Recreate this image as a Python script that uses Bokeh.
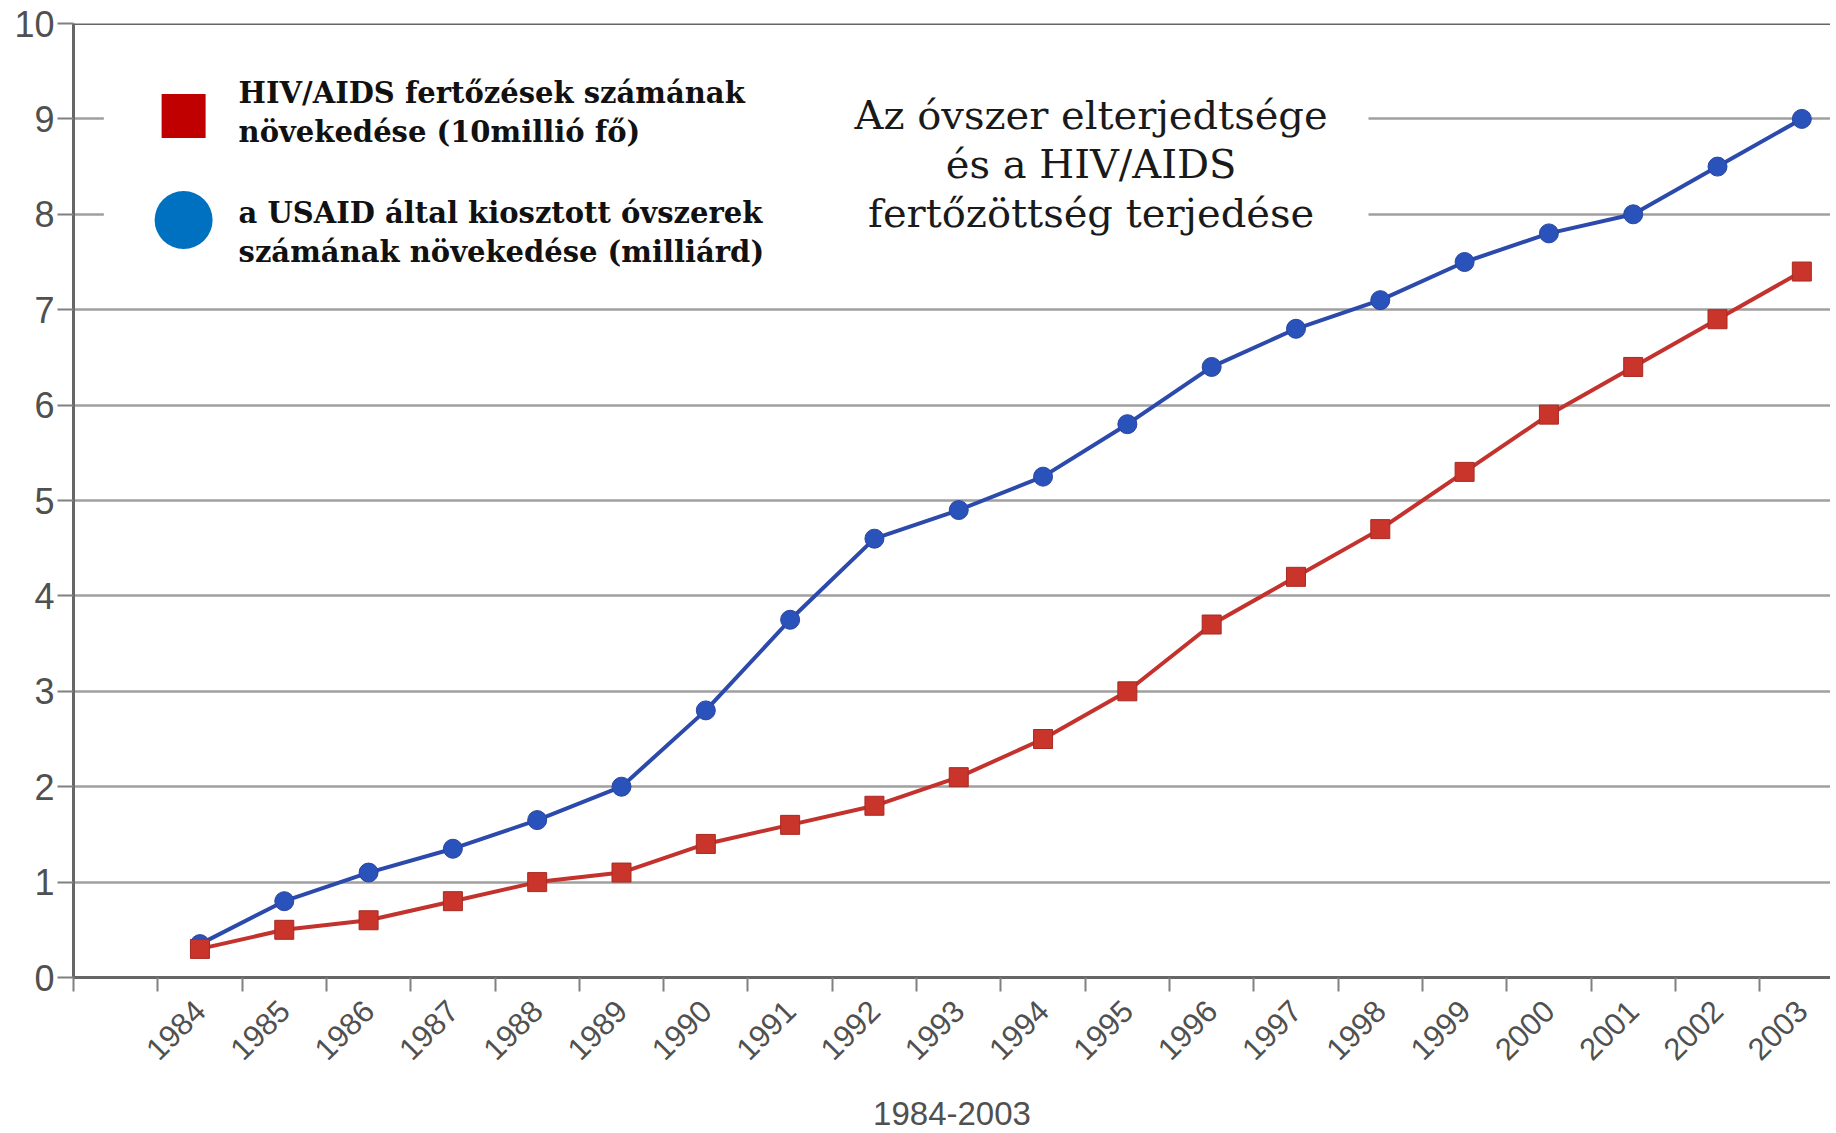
from bokeh.plotting import figure
from bokeh.models import FixedTicker, Range1d, Span, ColumnDataSource
from bokeh.core.properties import value
from bokeh.embed import file_html
from bokeh.resources import INLINE
import math

years = list(range(1984, 2004))
year_labels = [str(y) for y in years]
condoms = [0.35, 0.8, 1.1, 1.35, 1.65, 2.0, 2.8, 3.75, 4.6, 4.9, 5.25, 5.8, 6.4, 6.8, 7.1, 7.5, 7.8, 8.0, 8.5, 9.0]
hiv = [0.3, 0.5, 0.6, 0.8, 1.0, 1.1, 1.4, 1.6, 1.8, 2.1, 2.5, 3.0, 3.7, 4.2, 4.7, 5.3, 5.9, 6.4, 6.9, 7.4]
y_ticks = list(range(0, 11))
legend_labels = ["HIV/AIDS fertőzések számának\nnövekedése (10millió fő)",
                 "a USAID által kiosztott óvszerek\nszámának növekedése (milliárd)"]
title_text = "Az óvszer elterjedtsége\nés a HIV/AIDS\nfertőzöttség terjedése"
x_axis_title = "1984-2003"

p = figure(width=1830, height=1132, output_backend="svg", toolbar_location=None,
           x_range=Range1d(1982.5, 2003.34), y_range=Range1d(0, 10),
           min_border_left=73, min_border_right=0, min_border_top=23, min_border_bottom=155)
p.background_fill_color = "white"
p.border_fill_color = "white"
p.outline_line_color = None

# axes
xa = p.xaxis[0]
xa.ticker = FixedTicker(ticks=years, minor_ticks=[y - 0.5 for y in years] + [1982.5])
xa.major_label_overrides = {y: s for y, s in zip(years, year_labels)}
xa.major_tick_line_color = None
xa.minor_tick_line_color = "#808080"
xa.minor_tick_line_width = 2
xa.minor_tick_out = 14
xa.minor_tick_in = 0
xa.axis_line_color = "#666666"
xa.axis_line_width = 3
xa.major_label_orientation = math.pi / 4
xa.major_label_text_font = "Liberation Sans"
xa.major_label_text_font_size = "31px"
xa.major_label_text_color = "#505050"
xa.major_label_standoff = 14
xa.axis_label = x_axis_title
xa.axis_label_text_font = "Liberation Sans"
xa.axis_label_text_font_size = "33px"
xa.axis_label_text_font_style = "normal"
xa.axis_label_text_color = "#505050"
xa.axis_label_standoff = 29

ya = p.yaxis[0]
ya.ticker = FixedTicker(ticks=y_ticks, minor_ticks=[])
ya.major_tick_line_color = "#808080"
ya.major_tick_line_width = 2
ya.major_tick_out = 16
ya.major_tick_in = 0
ya.axis_line_color = "#666666"
ya.axis_line_width = 3
ya.major_label_text_font = "Liberation Sans"
ya.major_label_text_font_size = "36px"
ya.major_label_text_color = "#505050"
ya.major_label_standoff = 3

p.xgrid.grid_line_color = None
p.ygrid.ticker = FixedTicker(ticks=y_ticks[1:10])
p.ygrid.grid_line_color = "#a0a0a0"
p.ygrid.grid_line_width = 2.5

p.add_layout(Span(location=10, dimension="width", line_color="#666666", line_width=3))

# white panel behind legend and title
p.quad(left=[1982.86], right=[1997.86], bottom=[7.4], top=[9.96], fill_color="white", line_color=None)

src = ColumnDataSource(dict(year=years, condoms=condoms, hiv=hiv))
p.line("year", "condoms", source=src, line_color="#2b4aab", line_width=4)
p.scatter("year", "condoms", source=src, marker="circle", size=19, fill_color="#2a52bb", line_color="#2a45a0", line_width=1)
p.line("year", "hiv", source=src, line_color="#c3322c", line_width=4)
p.scatter("year", "hiv", source=src, marker="square", size=19, fill_color="#c9342b", line_color="#a82a24", line_width=1)

# legend
p.scatter(x=[1983.806], y=[9.03], marker="square", size=44, fill_color="#c00000", line_color=None)
p.scatter(x=[1983.806], y=[7.94], marker="circle", size=58, fill_color="#0070c0", line_color=None)
p.text(x=[1984.458, 1984.458], y=[9.07, 7.81], text=legend_labels, text_align="left", text_baseline="middle",
       text_font=value("DejaVu Serif"), text_font_style="bold", text_font_size="29px",
       text_color="#111111", text_line_height=1.14)

# title
p.text(x=[1994.57], y=[8.526], text=[title_text], text_align="center", text_baseline="middle",
       text_font=value("DejaVu Serif"), text_font_size="40px", text_color="#1a1a1a", text_line_height=1.07)

open("out.html", "w").write(file_html(p, INLINE))
